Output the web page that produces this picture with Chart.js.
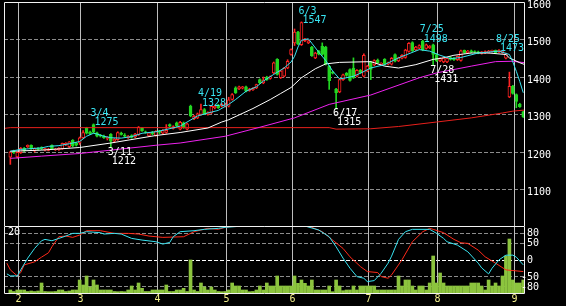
<!DOCTYPE html>
<html>
<head>
<meta charset="utf-8">
<script src="https://cdn.jsdelivr.net/npm/chart.js@4.4.0/dist/chart.umd.min.js"></script>
<style>
    html, body { margin: 0; padding: 0; background: #000; }
    #wrap { position: relative; width: 566px; height: 306px; overflow: hidden; background: #000; }
    #priceChart { position: absolute; left: 0; top: 0; width: 566px; height: 226px; }
    #oscChart { position: absolute; left: 0; top: 226px; width: 566px; height: 80px; }
</style>
</head>
<body>
<div id="wrap">
    <canvas id="priceChart" width="566" height="226"></canvas>
    <canvas id="oscChart" width="566" height="80"></canvas>
</div>
<script>
// Daily candles, one row per trading day: [open, high, low, close]
var candles = [
    [1186, 1202, 1167, 1200], [1203, 1205, 1196, 1199], [1187, 1201, 1184, 1199], [1198, 1212, 1196, 1210],
    [1210, 1212, 1201, 1203], [1214, 1219, 1212, 1218], [1218, 1219, 1207, 1209], [1203, 1211, 1200, 1210],
    [1210, 1212, 1205, 1207], [1212, 1214, 1206, 1209], [1205, 1210, 1203, 1209], [1204, 1210, 1203, 1208],
    [1218, 1219, 1208, 1209], [1206, 1210, 1204, 1208], [1206, 1212, 1204, 1210], [1209, 1224, 1207, 1223],
    [1219, 1225, 1217, 1223], [1214, 1228, 1212, 1227], [1231, 1233, 1214, 1216], [1224, 1226, 1216, 1218],
    [1224, 1240, 1220, 1238], [1238, 1257, 1236, 1252], [1263, 1266, 1248, 1250], [1253, 1256, 1246, 1248],
    [1273, 1275, 1250, 1253], [1251, 1253, 1240, 1242], [1245, 1247, 1240, 1242], [1242, 1245, 1236, 1238],
    [1236, 1241, 1232, 1239], [1247, 1249, 1212, 1229], [1229, 1236, 1226, 1234], [1233, 1254, 1231, 1252],
    [1250, 1253, 1245, 1247], [1245, 1249, 1240, 1242], [1238, 1244, 1236, 1242], [1244, 1246, 1237, 1239],
    [1240, 1250, 1238, 1248], [1246, 1268, 1244, 1266], [1263, 1265, 1255, 1257], [1254, 1256, 1250, 1252],
    [1243, 1252, 1241, 1251], [1252, 1255, 1246, 1248], [1244, 1257, 1242, 1255], [1255, 1258, 1249, 1252],
    [1250, 1260, 1248, 1257], [1252, 1273, 1250, 1258], [1273, 1275, 1267, 1269], [1263, 1270, 1261, 1268],
    [1278, 1280, 1268, 1270], [1261, 1282, 1259, 1279], [1278, 1280, 1263, 1265], [1261, 1277, 1259, 1275],
    [1322, 1325, 1294, 1296], [1289, 1298, 1286, 1295], [1291, 1304, 1289, 1302], [1300, 1328, 1298, 1313],
    [1313, 1316, 1300, 1302], [1300, 1307, 1298, 1305], [1304, 1324, 1302, 1322], [1318, 1325, 1315, 1322],
    [1325, 1327, 1316, 1318], [1322, 1330, 1320, 1327], [1322, 1330, 1320, 1326], [1322, 1346, 1320, 1339],
    [1340, 1356, 1338, 1353], [1371, 1374, 1356, 1358], [1368, 1376, 1366, 1374], [1370, 1375, 1368, 1374],
    [1374, 1376, 1360, 1362], [1364, 1370, 1362, 1368], [1366, 1372, 1364, 1370], [1371, 1381, 1369, 1380],
    [1393, 1395, 1382, 1384], [1384, 1400, 1382, 1392], [1400, 1402, 1391, 1393], [1396, 1403, 1394, 1401],
    [1411, 1440, 1409, 1438], [1447, 1449, 1405, 1407], [1398, 1418, 1396, 1416], [1402, 1426, 1400, 1424],
    [1424, 1446, 1422, 1442], [1460, 1475, 1458, 1473], [1491, 1528, 1484, 1520], [1520, 1522, 1486, 1488],
    [1486, 1547, 1484, 1545], [1497, 1503, 1494, 1502], [1491, 1499, 1489, 1496], [1480, 1482, 1455, 1457],
    [1451, 1466, 1449, 1464], [1469, 1471, 1459, 1461], [1482, 1491, 1458, 1460], [1480, 1482, 1432, 1434],
    [1429, 1431, 1367, 1390], [1413, 1415, 1408, 1410], [1368, 1370, 1315, 1358], [1360, 1395, 1358, 1393],
    [1393, 1408, 1391, 1406], [1410, 1412, 1402, 1404], [1420, 1422, 1389, 1391], [1424, 1451, 1396, 1398],
    [1402, 1420, 1400, 1418], [1418, 1420, 1410, 1412], [1402, 1462, 1400, 1458], [1416, 1431, 1414, 1429],
    [1440, 1442, 1393, 1420], [1432, 1446, 1430, 1444], [1445, 1448, 1436, 1438], [1433, 1438, 1431, 1437],
    [1447, 1449, 1432, 1434], [1434, 1440, 1432, 1438], [1434, 1452, 1432, 1450], [1460, 1462, 1440, 1442],
    [1443, 1453, 1441, 1451], [1450, 1460, 1448, 1458], [1452, 1474, 1450, 1472], [1468, 1492, 1466, 1490],
    [1492, 1494, 1468, 1470], [1472, 1482, 1470, 1480], [1477, 1486, 1475, 1484], [1496, 1498, 1470, 1472],
    [1476, 1488, 1474, 1486], [1478, 1484, 1476, 1482], [1486, 1488, 1431, 1460], [1460, 1462, 1441, 1443],
    [1443, 1451, 1441, 1449], [1440, 1453, 1438, 1451], [1440, 1452, 1438, 1450], [1452, 1454, 1445, 1447],
    [1450, 1452, 1444, 1446], [1446, 1456, 1444, 1455], [1444, 1472, 1442, 1470], [1471, 1472, 1463, 1465],
    [1465, 1471, 1463, 1469], [1470, 1472, 1464, 1466], [1468, 1470, 1464, 1466], [1467, 1469, 1462, 1465],
    [1463, 1468, 1461, 1467], [1464, 1470, 1462, 1468], [1465, 1471, 1463, 1469], [1468, 1472, 1466, 1471],
    [1471, 1472, 1463, 1465], [1467, 1473, 1465, 1471], [1465, 1470, 1463, 1469], [1450, 1464, 1448, 1462],
    [1347, 1413, 1345, 1375], [1375, 1378, 1354, 1356], [1353, 1355, 1318, 1335], [1328, 1330, 1319, 1321],
    [1307, 1309, 1292, 1294]
];

var volumes = [
    30, 15, 30, 30, 30, 15, 20, 15, 20, 100, 15, 13, 13, 15, 30, 30, 15, 20, 30, 30,
    130, 80, 170, 60, 130, 80, 30, 30, 30, 30, 15, 13, 15, 13, 30, 70, 30, 100, 47, 15,
    15, 30, 30, 30, 30, 80, 15, 15, 30, 30, 47, 15, 330, 30, 15, 100, 60, 30, 60, 30,
    15, 13, 15, 30, 100, 70, 70, 30, 30, 13, 15, 30, 70, 30, 100, 70, 70, 170, 70, 70,
    70, 70, 170, 97, 130, 97, 70, 130, 30, 30, 30, 30, 70, 13, 130, 70, 23, 30, 30, 70,
    30, 70, 70, 70, 70, 70, 30, 30, 30, 30, 30, 30, 170, 70, 130, 130, 70, 30, 70, 70,
    30, 100, 370, 100, 200, 100, 70, 70, 70, 70, 70, 70, 70, 100, 100, 100, 70, 30, 130, 70,
    100, 70, 170, 370, 540, 130, 100, 100, 130
];

// Moving averages, read as [day index, price]
var maShort = [[0, 1202], [3, 1207], [9, 1211], [11, 1215], [14, 1217], [17, 1222], [20, 1228], [22, 1242],
    [24, 1250], [25, 1248], [27, 1242], [29, 1238], [32, 1237], [35, 1241], [38, 1250], [42, 1254], [45, 1260],
    [49, 1269], [51, 1280], [54, 1296], [57, 1304], [60, 1311], [63, 1327], [65, 1340], [68, 1362], [71, 1374],
    [73, 1389], [76, 1407], [79, 1424], [81, 1440], [82, 1455], [83, 1480], [84, 1498], [86, 1502], [87, 1490],
    [89, 1466], [91, 1444], [93, 1416], [95, 1395], [97, 1398], [99, 1402], [101, 1410], [104, 1424], [108, 1433],
    [112, 1451], [118, 1473], [121, 1469], [124, 1458], [127, 1449], [130, 1452], [135, 1464], [141, 1469],
    [144, 1460], [145, 1440], [146, 1415], [147, 1388], [148, 1358]];
var maMid = [[0, 1202], [9, 1205], [20, 1212], [29, 1224], [42, 1244], [49, 1252], [57, 1264], [61, 1280],
    [63, 1286], [70, 1316], [75, 1340], [78, 1356], [81, 1372], [84, 1398], [88, 1422], [91, 1435], [95, 1439],
    [104, 1441], [108, 1429], [112, 1424], [117, 1433], [122, 1447], [125, 1451], [128, 1458], [133, 1464],
    [138, 1464], [143, 1460], [144, 1451], [147, 1438], [148.5, 1433]];
var maLong = [[0, 1183], [9, 1189], [20, 1196], [42, 1218], [49, 1224], [62, 1242], [72, 1266], [82, 1291],
    [92, 1327], [104, 1352], [118, 1398], [123, 1411], [133, 1429], [140, 1441], [145, 1442], [148.5, 1438]];
var maTrend = [[-1.8, 1263], [0, 1265], [92, 1265], [94, 1261], [104, 1262], [112, 1268], [123, 1280],
    [133, 1291], [142, 1304], [145, 1309], [148.5, 1312]];

// Oscillator lines, [day index, value]
var oscFast = [[-1, -43], [0, -49], [2, -49], [3, -31], [5, 4], [7, 33], [9, 56], [10, 60], [12, 56], [14, 63],
    [16, 70], [18, 78], [20, 78], [22, 83], [26, 80], [27, 76], [30, 78], [32, 76], [35, 63], [38, 58], [42, 53],
    [44, 46], [46, 51], [47, 68], [49, 83], [53, 86], [56, 90], [60, 93], [62, 96], [66, 99], [69, 100], [85, 100],
    [87, 94], [89, 88], [92, 68], [94, 38], [96, 4], [98, -26], [100, -51], [102, -56], [103, -66], [105, -63],
    [107, -41], [109, -11], [110, 10], [112, 60], [114, 83], [116, 90], [121, 90], [123, 78], [125, 63], [126, 53],
    [129, 43], [132, 23], [135, -11], [136, -25], [138, -43], [139, -26], [141, -1], [143, 13], [145, 13],
    [146, 7], [148, -16]];
var oscSlow = [[-1, -11], [0, -31], [2, -49], [3, -39], [4, -16], [7, -7], [9, 7], [11, 20], [12, 38], [14, 68],
    [16, 70], [18, 66], [20, 73], [22, 86], [26, 86], [30, 78], [34, 78], [37, 76], [40, 70], [44, 66], [50, 68],
    [53, 83], [57, 93], [60, 90], [62, 96], [64, 99], [66, 100], [85, 100], [87, 96], [90, 83], [93, 58], [96, 33],
    [98, 8], [101, -21], [103, -36], [106, -39], [107, -51], [109, -56], [110, -46], [113, -1], [116, 53],
    [119, 83], [121, 93], [122, 90], [125, 80], [128, 60], [130, 50], [132, 48], [135, 28], [137, 8], [140, -11],
    [143, -31], [145, -33], [148, -36]];

var monthTicks = [2.2, 20.1, 42.3, 62.2, 81.3, 103.2, 123.1, 145.3];
var monthLabels = ['2', '3', '4', '5', '6', '7', '8', '9'];
var priceTicks = [1600, 1500, 1400, 1300, 1200, 1100];
var oscTicks = [80, 50, 0, -50, -80];

// Marked highs and lows
var markIdx = [24, 29, 55, 84, 94, 119, 122, 141];
var markDates = ['3/4', '3/11', '4/19', '6/3', '6/17', '7/25', '7/28', '8/25'];
var markKinds = ['high', 'low', 'high', 'high', 'low', 'high', 'low', 'high'];

(function() {
    'use strict';

    var UP = '#ff2222';
    var DOWN = '#22d622';
    var CYAN = '#38e4f2';
    var FONT = '10px "DejaVu Sans Mono", monospace';
    var X_MIN = -1.83, X_MAX = 148.5;

    function pts(arr) {
        return arr.map(function(p) { return { x: p[0], y: p[1] }; });
    }

    function xAxis() {
        return { type: 'linear', min: X_MIN, max: X_MAX, offset: false, display: false, grid: { offset: false } };
    }

    function monthLines(chart, ctx) {
        var a = chart.chartArea;
        ctx.strokeStyle = '#bdbdbd';
        ctx.setLineDash([]);
        monthTicks.forEach(function(t) {
            var px = Math.round(chart.scales.x.getPixelForValue(t)) + 0.5;
            ctx.beginPath();
            ctx.moveTo(px, a.top);
            ctx.lineTo(px, a.bottom);
            ctx.stroke();
        });
    }

    var priceDecor = {
        id: 'priceDecor',
        beforeDatasetsDraw: function(chart) {
            var ctx = chart.ctx, a = chart.chartArea, y = chart.scales.y;
            ctx.save();
            ctx.lineWidth = 1;
            ctx.strokeStyle = '#8c8c8c';
            ctx.setLineDash([4, 2]);
            priceTicks.forEach(function(v) {
                if (v >= 1600) return;
                var py = Math.floor(y.getPixelForValue(v)) + 0.5;
                ctx.beginPath();
                ctx.moveTo(a.left, py);
                ctx.lineTo(a.right, py);
                ctx.stroke();
            });
            monthLines(chart, ctx);
            ctx.restore();
        },
        afterDatasetsDraw: function(chart) {
            var ctx = chart.ctx, a = chart.chartArea, x = chart.scales.x, y = chart.scales.y;
            ctx.save();
            ctx.strokeStyle = '#f2f2f2';
            ctx.lineWidth = 1;
            ctx.beginPath();
            ctx.moveTo(a.left + 0.5, a.bottom);
            ctx.lineTo(a.left + 0.5, a.top + 0.5);
            ctx.lineTo(a.right - 0.5, a.top + 0.5);
            ctx.lineTo(a.right - 0.5, a.bottom);
            ctx.stroke();

            ctx.font = FONT;
            ctx.textAlign = 'left';
            ctx.textBaseline = 'alphabetic';
            ctx.fillStyle = '#ffffff';
            priceTicks.forEach(function(v) {
                var py = y.getPixelForValue(v);
                ctx.fillText(String(v), 527, Math.max(py + 5.5, 7.5));
            });

            markIdx.forEach(function(i, k) {
                var px = x.getPixelForValue(i);
                if (markKinds[k] === 'high') {
                    var hv = candles[i][1];
                    var yh = y.getPixelForValue(hv);
                    ctx.fillStyle = CYAN;
                    ctx.fillText(markDates[k], px - 3, yh - 8);
                    ctx.fillText(String(hv), px + 1, yh + 1.5);
                } else {
                    var lv = candles[i][2];
                    var yl = y.getPixelForValue(lv);
                    ctx.fillStyle = '#ffffff';
                    ctx.fillText(markDates[k], px - 3, yl + 7.5);
                    ctx.fillText(String(lv), px + 1, yl + 16.5);
                }
            });
            ctx.restore();
        }
    };

    var oscDecor = {
        id: 'oscDecor',
        beforeDatasetsDraw: function(chart) {
            var ctx = chart.ctx, a = chart.chartArea, y = chart.scales.ys;
            ctx.save();
            ctx.lineWidth = 1;
            ctx.setLineDash([4, 2]);
            oscTicks.forEach(function(v) {
                var py = Math.round(y.getPixelForValue(v)) + 0.5;
                ctx.strokeStyle = v === 0 ? '#ffffff' : '#8c8c8c';
                ctx.beginPath();
                ctx.moveTo(a.left, py);
                ctx.lineTo(a.right, py);
                ctx.stroke();
            });
            monthLines(chart, ctx);
            ctx.restore();
        },
        afterDatasetsDraw: function(chart) {
            var ctx = chart.ctx, a = chart.chartArea, x = chart.scales.x, y = chart.scales.ys;
            ctx.save();
            ctx.strokeStyle = '#f2f2f2';
            ctx.lineWidth = 1;
            ctx.beginPath();
            ctx.rect(a.left + 0.5, a.top + 0.5, a.right - a.left - 1, a.bottom - a.top);
            ctx.stroke();

            ctx.font = FONT;
            ctx.textBaseline = 'alphabetic';
            ctx.fillStyle = '#ffffff';
            oscTicks.forEach(function(v) {
                var py = y.getPixelForValue(v) + 3.5;
                ctx.textAlign = 'left';
                ctx.fillText(String(Math.abs(v)), 527, py);
                if (v < 0) {
                    ctx.textAlign = 'right';
                    ctx.fillText('-', 527, py);
                }
            });
            ctx.textAlign = 'left';
            ctx.fillText('20', 8, 9);

            ctx.fillStyle = '#f4f08c';
            ctx.textAlign = 'center';
            monthTicks.forEach(function(t, k) {
                ctx.fillText(monthLabels[k], Math.round(x.getPixelForValue(t)) + 0.5, 76);
            });
            ctx.restore();
        }
    };

    var baseOptions = {
        responsive: false,
        animation: false,
        devicePixelRatio: 1,
        events: [],
        plugins: { legend: { display: false }, tooltip: { enabled: false } }
    };

    function lineSet(data, color, order, axis) {
        return {
            type: 'line',
            data: pts(data),
            borderColor: color,
            borderWidth: 1,
            pointRadius: 0,
            tension: 0,
            fill: false,
            order: order,
            yAxisID: axis
        };
    }

    function initPriceChart() {
        var bodyData = candles.map(function(c, i) { return { x: i, y: [c[0], c[3]] }; });
        var wickData = candles.map(function(c, i) { return { x: i, y: [c[2], c[1]] }; });
        var colors = candles.map(function(c) { return c[3] >= c[0] ? UP : DOWN; });
        var fills = candles.map(function(c) { return c[3] >= c[0] ? '#000000' : DOWN; });

        new Chart(document.getElementById('priceChart'), {
            type: 'bar',
            data: {
                datasets: [
                    lineSet(maShort, CYAN, 0, 'y'),
                    lineSet(maMid, '#ffffff', 1, 'y'),
                    lineSet(maLong, '#ee22ee', 2, 'y'),
                    lineSet(maTrend, '#e8201c', 3, 'y'),
                    {
                        type: 'bar',
                        data: bodyData,
                        backgroundColor: fills,
                        borderColor: colors,
                        borderWidth: 1,
                        borderSkipped: false,
                        barThickness: 3,
                        grouped: false,
                        order: 4
                    },
                    {
                        type: 'bar',
                        data: wickData,
                        backgroundColor: colors,
                        borderWidth: 0,
                        barThickness: 1,
                        grouped: false,
                        order: 5
                    }
                ]
            },
            options: Object.assign({}, baseOptions, {
                layout: { padding: { left: 4, right: 41, top: 2, bottom: 0 } },
                scales: {
                    x: xAxis(),
                    y: { type: 'linear', min: 1002.67, max: 1600, beginAtZero: false, display: false }
                }
            }),
            plugins: [priceDecor]
        });
    }

    function initOscChart() {
        var volData = volumes.map(function(v, i) { return { x: i, y: v }; });

        new Chart(document.getElementById('oscChart'), {
            type: 'bar',
            data: {
                datasets: [
                    lineSet(oscFast, CYAN, 0, 'ys'),
                    lineSet(oscSlow, '#ff2a1a', 1, 'ys'),
                    {
                        type: 'bar',
                        data: volData,
                        backgroundColor: '#8cc43e',
                        borderWidth: 0,
                        barThickness: 3,
                        grouped: false,
                        yAxisID: 'yv',
                        order: 2
                    }
                ]
            },
            options: Object.assign({}, baseOptions, {
                layout: { padding: { left: 4, right: 41, top: 0, bottom: 13 } },
                scales: {
                    x: xAxis(),
                    ys: { type: 'linear', min: -100, max: 100, display: false },
                    yv: { type: 'linear', min: 0, max: 670, display: false }
                }
            }),
            plugins: [oscDecor]
        });
    }

    initPriceChart();
    initOscChart();
})();
</script>
</body>
</html>
